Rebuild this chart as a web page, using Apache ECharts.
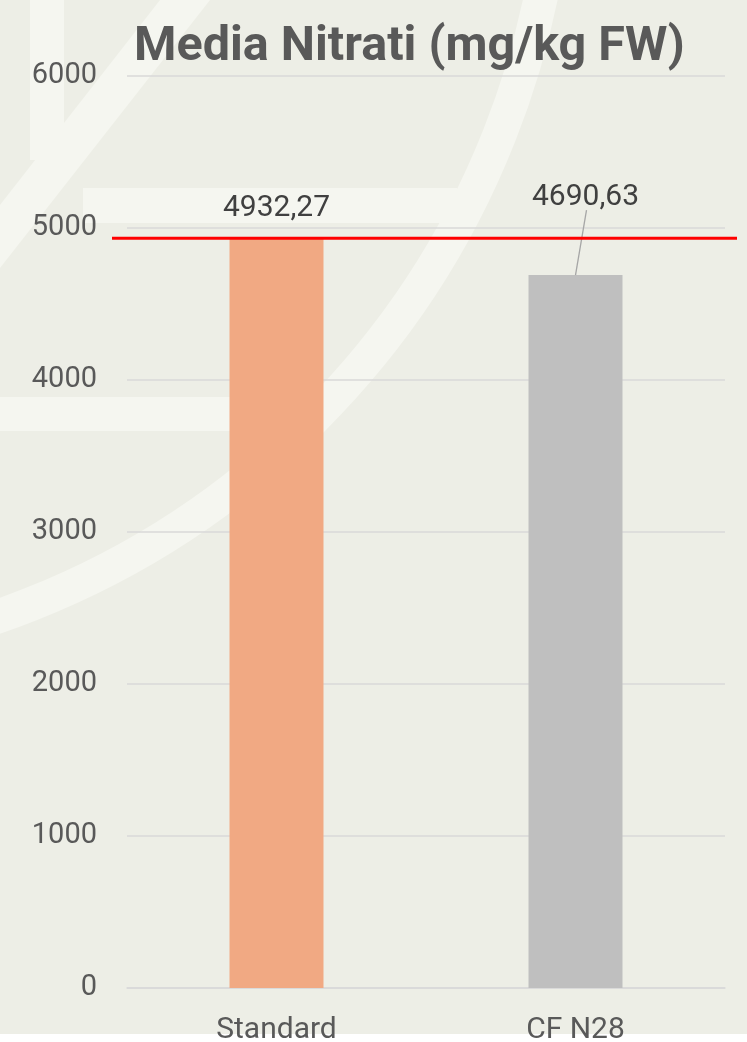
<!DOCTYPE html>
<html>
<head>
<meta charset="utf-8">
<script src="https://cdn.jsdelivr.net/npm/echarts@6/dist/echarts.min.js"></script>
<style>
  html, body { margin: 0; padding: 0; background: #ffffff; }
  #chart { width: 747px; height: 1042px;
    background: linear-gradient(to bottom, #EDEEE6 0px, #EDEEE6 1034px, #ffffff 1034px, #ffffff 1042px); }
</style>
</head>
<body>
<div id="chart"></div>
<script>
const categories = ['Standard', 'CF N28'];
const values = [4932.27, 4690.63];
const valueLabels = ['4932,27', '4690,63'];
const refValue = 4932.27;
const yTicks = [0, 1000, 2000, 3000, 4000, 5000, 6000];

const FONT = 'Roboto, "Liberation Sans", sans-serif';
const LIGHT = '#F5F6F0';

const chart = echarts.init(document.getElementById('chart'), null, { renderer: 'canvas' });

const decor = [
  { type: 'rect', shape: { x: 30, y: 0, width: 34, height: 160 }, style: { fill: LIGHT } },
  { type: 'polygon', shape: { points: [[0, 205], [160, 0], [210, 0], [0, 268]] }, style: { fill: LIGHT } },
  { type: 'rect', shape: { x: 83, y: 188, width: 374, height: 35 }, style: { fill: LIGHT } },
  { type: 'rect', shape: { x: 0, y: 397, width: 240, height: 34 }, style: { fill: LIGHT } },
  { type: 'circle', shape: { cx: -277, cy: -172, r: 835 }, style: { fill: 'none', stroke: LIGHT, lineWidth: 34 } }
].map(g => Object.assign({ silent: true, z: -10 }, g));

const MOVE_DX = 10, MOVE_DY = -48;

chart.setOption({
  animation: false,
  backgroundColor: 'transparent',
  title: {
    text: 'Media Nitrati (mg/kg FW)',
    left: 129,
    top: 18,
    textStyle: { fontFamily: FONT, fontSize: 48.5, fontWeight: 'bold', color: '#595959' }
  },
  grid: { left: 127, right: 22, top: 76, bottom: 54, containLabel: false, outerBoundsMode: 'none' },
  xAxis: {
    type: 'category',
    data: categories,
    axisLine: { show: true, lineStyle: { color: '#D9D9D9', width: 1.5 } },
    axisTick: { show: false },
    axisLabel: { fontFamily: FONT, fontSize: 30, color: '#595959', margin: 27 }
  },
  yAxis: {
    type: 'value',
    min: yTicks[0],
    max: yTicks[yTicks.length - 1],
    interval: yTicks[1] - yTicks[0],
    axisLine: { show: false },
    axisTick: { show: false },
    splitLine: { lineStyle: { color: '#D9D9D9', width: 1.5 } },
    axisLabel: { fontFamily: FONT, fontSize: 29, color: '#595959', margin: 30, formatter: v => String(v) }
  },
  series: [{
    type: 'bar',
    barWidth: 94,
    data: values.map((v, i) => ({
      value: v,
      itemStyle: { color: i === 0 ? '#F1A983' : '#BFBFBF' }
    })),
    labelLayout: p => (p.dataIndex === 1 ? { dx: MOVE_DX, dy: MOVE_DY } : {}),
    label: {
      show: true,
      position: 'top',
      distance: 15,
      fontFamily: FONT,
      fontSize: 30,
      color: '#404040',
      formatter: p => valueLabels[p.dataIndex]
    }
  }],
  graphic: decor
});

const yRef = chart.convertToPixel({ yAxisIndex: 0 }, refValue);
const top2 = chart.convertToPixel({ seriesIndex: 0 }, [1, values[1]]);
chart.setOption({
  graphic: decor.concat([
    {
      type: 'line', silent: true, z: 100,
      shape: { x1: 112, y1: yRef, x2: 737, y2: yRef },
      style: { stroke: '#FF0000', lineWidth: 3 }
    },
    {
      type: 'line', silent: true, z: 50,
      shape: { x1: top2[0] + 11, y1: top2[1] - 65, x2: top2[0], y2: top2[1] },
      style: { stroke: '#A6A6A6', lineWidth: 1.3 }
    }
  ])
});
</script>
</body>
</html>
